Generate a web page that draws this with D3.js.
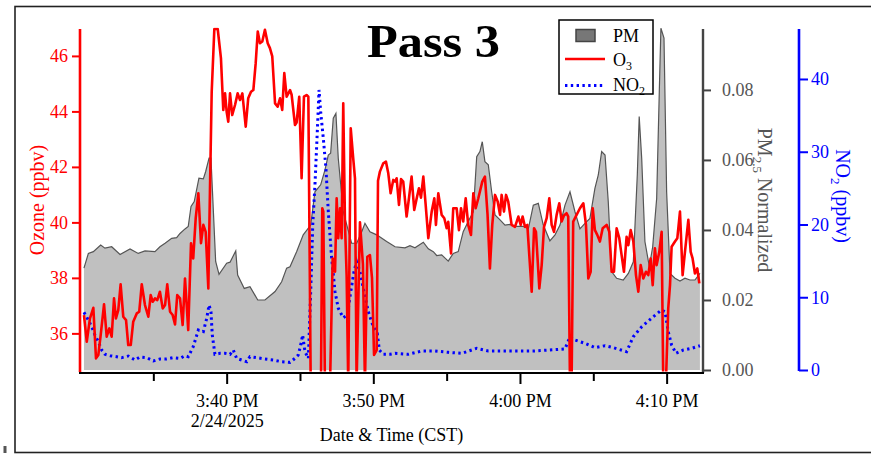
<!DOCTYPE html>
<html><head><meta charset="utf-8">
<script src="https://cdn.jsdelivr.net/npm/d3@7"></script>
<style>
html,body{margin:0;padding:0;background:#fff;}
svg{display:block;font-family:"Liberation Serif","Times New Roman",serif;}
</style></head><body>
<svg id="chart" width="871" height="454"></svg>
<script>
// ---------- DATA (time = minutes after 15:30 on 2/24/2025) ----------
const startTime = "2025-02-24T15:30:00";
const xEndMin = 42.48;
const majorTicks = ["15:40", "15:50", "16:00", "16:10"];
const minorTicks = ["15:35", "15:45", "15:55", "16:05"];
const o3Ticks = [36, 38, 40, 42, 44, 46];
const pmTicks = [0, 0.02, 0.04, 0.06, 0.08];
const no2Ticks = [0, 10, 20, 30, 40];
const o3Domain = [34.68, 46.97];
const pmDomain = [0, 0.0974];
const no2Domain = [0, 46.87];

const pmMin = [0.27,0.57,0.91,1.41,1.70,2.16,2.73,3.41,3.97,4.43,5.11,5.45,5.80,6.25,6.59,6.82,7.16,7.38,7.57,7.79,8.11,8.41,8.57,8.80,8.93,9.25,9.48,10.00,10.23,10.62,10.75,11.20,11.59,12.12,12.61,13.30,13.75,14.09,14.32,14.77,15.22,15.73,16.02,16.41,16.70,16.93,17.09,17.27,17.45,17.61,17.95,18.52,18.87,19.21,19.43,19.77,20.23,20.91,21.48,22.16,22.50,22.84,23.41,23.75,24.09,24.32,24.66,25.11,25.45,25.79,26.13,26.47,26.82,27.05,27.27,27.43,27.61,27.84,28.07,28.30,28.64,28.98,29.32,29.77,30.23,30.57,30.91,31.25,31.59,32.04,32.39,32.73,33.07,33.41,33.75,34.09,34.43,34.77,35.11,35.34,35.57,35.80,36.02,36.25,36.59,37.04,37.39,37.73,38.00,38.13,38.30,38.52,38.82,39.05,39.32,39.50,39.61,39.82,40.00,40.23,40.57,40.91,41.25,41.59,41.93,42.27];
const pmVal = [0.0291,0.0333,0.0338,0.0357,0.0348,0.0352,0.0330,0.0346,0.0333,0.0340,0.0338,0.0352,0.0362,0.0376,0.0378,0.0390,0.0403,0.0410,0.0467,0.0481,0.0548,0.0546,0.0567,0.0605,0.0605,0.0310,0.0273,0.0305,0.0308,0.0340,0.0271,0.0233,0.0238,0.0200,0.0200,0.0224,0.0252,0.0291,0.0295,0.0338,0.0386,0.0414,0.0509,0.0529,0.0571,0.0614,0.0619,0.0719,0.0733,0.0605,0.0452,0.0362,0.0362,0.0395,0.0419,0.0395,0.0386,0.0367,0.0352,0.0349,0.0355,0.0349,0.0365,0.0346,0.0338,0.0327,0.0329,0.0311,0.0333,0.0338,0.0395,0.0424,0.0452,0.0609,0.0624,0.0652,0.0595,0.0586,0.0509,0.0443,0.0429,0.0414,0.0416,0.0410,0.0410,0.0403,0.0471,0.0476,0.0414,0.0369,0.0386,0.0414,0.0471,0.0509,0.0452,0.0403,0.0419,0.0433,0.0519,0.0557,0.0624,0.0614,0.0481,0.0281,0.0262,0.0257,0.0276,0.0309,0.0557,0.0724,0.0605,0.0367,0.0295,0.0352,0.0490,0.0795,0.0976,0.0948,0.0509,0.0276,0.0262,0.0254,0.0262,0.0257,0.0257,0.0276];

const o3Min = [0.27,0.46,0.68,0.91,1.09,1.25,1.41,1.64,1.82,2.00,2.16,2.32,2.45,2.61,2.77,2.95,3.14,3.29,3.46,3.63,3.87,4.04,4.21,4.43,4.66,4.82,4.96,5.11,5.27,5.45,5.64,5.80,5.95,6.14,6.32,6.48,6.63,6.82,7.00,7.16,7.38,7.57,7.72,7.89,8.07,8.25,8.41,8.57,8.75,8.86,8.98,9.16,9.39,9.61,9.77,9.89,10.00,10.11,10.23,10.38,10.57,10.75,10.91,11.07,11.30,11.47,11.66,11.82,11.98,12.12,12.27,12.43,12.61,12.80,12.95,13.11,13.30,13.48,13.64,13.79,13.93,14.09,14.32,14.43,14.66,14.77,14.95,15.11,15.27,15.45,15.57,15.73,16.09,16.43,16.52,16.59,16.70,17.05,17.23,17.39,17.50,17.61,17.73,17.84,17.95,18.07,18.18,18.29,18.46,18.63,18.75,18.86,19.09,19.29,19.43,19.59,19.77,19.91,20.05,20.23,20.32,20.45,20.68,20.86,21.02,21.18,21.36,21.48,21.59,21.75,21.89,22.04,22.27,22.43,22.61,22.79,22.96,23.11,23.25,23.41,23.57,23.75,23.98,24.16,24.27,24.43,24.66,24.84,25.00,25.11,25.30,25.45,25.68,25.84,25.98,26.13,26.30,26.47,26.66,26.82,26.98,27.16,27.43,27.61,27.79,27.95,28.11,28.30,28.48,28.64,28.75,28.91,29.05,29.20,29.43,29.66,29.89,30.05,30.18,30.34,30.50,30.80,30.96,31.09,31.32,31.48,31.64,31.82,32.00,32.16,32.32,32.50,32.68,32.84,33.00,33.18,33.29,33.41,33.52,33.63,33.86,34.09,34.32,34.50,34.66,34.82,34.96,35.11,35.27,35.45,35.64,35.91,36.09,36.25,36.41,36.59,36.77,36.93,37.09,37.27,37.39,37.55,37.73,37.91,38.07,38.23,38.41,38.59,38.75,38.91,39.05,39.20,39.32,39.50,39.66,39.77,39.95,40.11,40.23,40.34,40.57,40.73,40.91,41.09,41.25,41.48,41.64,41.77,41.93,42.09,42.23];
const o3Val = [36.66,35.70,36.54,36.92,35.10,35.22,35.94,37.05,35.88,36.18,35.88,37.26,36.54,36.84,37.77,36.60,36.48,35.58,35.58,36.42,36.72,36.78,37.77,37.02,36.60,37.38,37.14,37.26,37.20,37.50,36.90,37.02,37.77,36.78,36.66,36.32,37.38,37.26,36.30,37.98,36.12,39.25,38.70,40.15,41.05,39.25,39.91,39.66,37.62,41.11,44.71,46.97,46.97,45.92,44.05,44.65,43.99,43.63,44.65,43.87,44.23,44.65,44.41,44.65,43.45,44.47,44.71,44.77,45.74,46.88,46.46,46.52,46.94,46.46,46.28,45.98,44.29,44.17,44.47,44.05,45.38,44.53,44.77,44.60,43.51,43.60,44.53,41.59,44.53,44.59,44.53,34.2,34.2,34.2,40.51,40.40,34.2,34.2,38.70,38.22,40.87,39.43,40.51,39.43,44.29,39.91,38.10,34.2,43.39,42.31,41.59,34.2,40.0,38.5,34.2,38.76,38.82,38.0,35.22,35.4,41.5,41.83,42.13,42.19,41.77,41.05,41.53,41.47,41.59,40.63,41.56,41.47,40.21,40.87,41.65,40.45,40.87,41.23,40.89,41.65,40.63,39.43,40.39,40.87,39.91,41.05,40.27,40.15,39.79,40.02,38.88,40.51,40.51,39.72,40.51,40.03,40.87,39.91,39.55,41.05,40.51,40.87,41.47,41.65,40.27,38.34,39.91,40.99,40.75,40.27,40.99,40.39,40.99,40.75,39.91,39.84,40.21,39.91,40.21,39.84,39.91,37.50,39.79,39.66,37.62,38.46,39.84,40.15,40.87,39.91,39.66,40.27,40.69,40.03,40.25,40.33,40.21,34.2,34.2,40.03,40.27,40.51,40.69,39.91,37.98,38.22,40.51,39.72,39.55,39.31,39.79,39.91,39.66,38.22,38.22,39.79,39.43,38.82,38.22,39.48,39.18,39.72,39.31,38.10,37.50,38.46,37.98,38.22,38.10,38.70,37.74,39.07,38.46,38.94,39.66,34.2,34.2,36.90,37.74,39.12,39.31,39.43,40.39,38.10,38.94,40.09,38.94,38.70,38.16,38.34,37.80];

const no2Min = [0.27,0.50,0.80,1.02,1.25,1.48,1.70,2.05,2.50,2.84,3.29,3.75,4.09,4.55,5.00,5.45,5.91,6.36,6.82,7.16,7.38,7.72,8.07,8.41,8.64,8.80,8.93,9.02,9.20,9.55,9.89,10.23,10.45,10.68,11.02,11.37,11.59,12.05,12.61,13.18,13.75,14.32,14.66,14.88,15.05,15.18,15.34,15.57,15.73,15.87,16.02,16.18,16.30,16.41,16.59,16.77,16.93,17.16,17.39,17.61,17.95,18.23,18.46,18.68,18.86,19.09,19.36,19.66,20.00,20.27,20.41,20.68,21.14,21.48,22.39,23.30,24.20,25.11,26.02,27.05,27.84,28.64,30.91,33.07,33.41,33.75,34.43,35.11,35.80,36.36,37.27,37.73,38.30,39.09,39.66,39.89,40.11,40.34,40.64,41.14,41.70,42.27];
const no2Val = [7.93,7.10,5.96,4.81,3.89,2.75,2.16,1.97,1.83,1.70,1.92,1.37,1.79,1.70,1.24,1.51,1.51,1.70,1.60,1.97,1.83,3.20,5.50,5.27,7.10,8.93,8.00,4.81,2.16,2.29,2.29,2.16,2.75,1.60,1.37,1.14,1.83,1.70,1.51,1.37,1.14,1.05,1.60,2.06,3.44,4.81,2.52,1.60,10.76,19.93,25.43,32.76,38.49,35.50,31.85,27.72,21.76,15.35,10.76,8.48,7.19,7.56,10.76,13.51,14.89,13.51,10.76,8.01,5.95,5.04,2.75,2.16,2.16,2.29,2.16,2.61,2.61,2.43,2.29,2.98,2.61,2.61,2.61,2.89,4.58,4.12,3.67,3.07,3.34,3.07,2.52,4.58,5.95,7.33,8.25,8.01,5.27,3.44,2.29,2.75,2.98,3.34];

// ---------- DRAWING ----------
const svg = d3.select("#chart");
const L = 80, R = 703, T = 29, B = 370;
const start = new Date(startTime);
const toDate = m => new Date(start.getTime() + m * 60000);
const hm = s => { const [h, m] = s.split(":").map(Number); return toDate((h - 15) * 60 + m - 30); };
const zip = (ts, vs) => ts.slice(0, Math.min(ts.length, vs.length)).map((t, i) => ({ t: toDate(t), v: vs[i] }));

const x = d3.scaleTime().domain([toDate(0), toDate(xEndMin)]).range([L, R]);
const yO3 = d3.scaleLinear().domain(o3Domain).range([B, T]);
const yPM = d3.scaleLinear().domain(pmDomain).range([B, T]);
const yNO2 = d3.scaleLinear().domain(no2Domain).range([B, T]);

// frame
svg.append("rect").attr("x", 15).attr("y", 6.5).attr("width", 870).attr("height", 446)
  .attr("fill", "none").attr("stroke", "#222").attr("stroke-width", 1.6);
svg.append("rect").attr("x", 3.5).attr("y", 446).attr("width", 3).attr("height", 7).attr("fill", "#555");

svg.append("clipPath").attr("id", "plotclip").append("rect")
  .attr("x", L).attr("y", T - 1.5).attr("width", R - L).attr("height", B - T + 3);
const plot = svg.append("g").attr("clip-path", "url(#plotclip)");

const pmData = zip(pmMin, pmVal);
plot.append("path").datum(pmData)
  .attr("d", d3.area().x(d => x(d.t)).y0(yPM(0)).y1(d => yPM(d.v)))
  .attr("fill", "#c0c0c0");
plot.append("path").datum(pmData)
  .attr("d", d3.line().x(d => x(d.t)).y(d => yPM(d.v)))
  .attr("fill", "none").attr("stroke", "#555").attr("stroke-width", 1.2);

plot.append("path").datum(zip(no2Min, no2Val))
  .attr("d", d3.line().x(d => x(d.t)).y(d => yNO2(d.v)))
  .attr("fill", "none").attr("stroke", "#0000ff").attr("stroke-width", 3)
  .attr("stroke-dasharray", "2.4,3.4");

plot.append("path").datum(zip(o3Min, o3Val))
  .attr("d", d3.line().x(d => x(d.t)).y(d => yO3(d.v)))
  .attr("fill", "none").attr("stroke", "#ff0000").attr("stroke-width", 2.6)
  .attr("stroke-linejoin", "round");

// left ozone axis
const gL = svg.append("g").attr("transform", `translate(${L},0)`)
  .call(d3.axisLeft(yO3).tickValues(o3Ticks).tickSize(8).tickPadding(4).tickFormat(d3.format("d")));
gL.select(".domain").remove();
gL.selectAll("line").attr("stroke", "#ff0000").attr("stroke-width", 2);
gL.selectAll("text").attr("fill", "#ff0000").attr("font-size", 18).attr("font-family", "Liberation Serif");
svg.append("line").attr("x1", L).attr("x2", L).attr("y1", T).attr("y2", B + 2)
  .attr("stroke", "#ff0000").attr("stroke-width", 2.6);

// PM axis
const gP = svg.append("g").attr("transform", `translate(${R},0)`)
  .call(d3.axisRight(yPM).tickValues(pmTicks).tickSize(8).tickPadding(11).tickFormat(d3.format(".2f")));
gP.select(".domain").remove();
gP.selectAll("line").attr("stroke", "#444").attr("stroke-width", 2);
gP.selectAll("text").attr("fill", "#555").attr("font-size", 18).attr("font-family", "Liberation Serif");
svg.append("line").attr("x1", R).attr("x2", R).attr("y1", T).attr("y2", B + 3)
  .attr("stroke", "#444").attr("stroke-width", 2.4);

// NO2 axis
const NX = 799;
const gN = svg.append("g").attr("transform", `translate(${NX},0)`)
  .call(d3.axisRight(yNO2).tickValues(no2Ticks).tickSize(9).tickPadding(3).tickFormat(d3.format("d")));
gN.select(".domain").remove();
gN.selectAll("line").attr("stroke", "#0000ff").attr("stroke-width", 2);
gN.selectAll("text").attr("fill", "#0000ff").attr("font-size", 18).attr("font-family", "Liberation Serif");
svg.append("line").attr("x1", NX).attr("x2", NX).attr("y1", T).attr("y2", B + 1)
  .attr("stroke", "#0000ff").attr("stroke-width", 2.6);

// x axis
const XY = 373;
const fmt = d3.timeFormat("%-I:%M %p");
const gX = svg.append("g").attr("transform", `translate(0,${XY})`)
  .call(d3.axisBottom(x).tickValues(majorTicks.map(hm)).tickSize(11).tickPadding(10).tickFormat(fmt));
gX.select(".domain").remove();
gX.selectAll("line").attr("stroke", "#000").attr("stroke-width", 2);
gX.selectAll("text").attr("fill", "#000").attr("font-size", 18).attr("font-family", "Liberation Serif");
gX.selectAll(".tick").filter((d, i) => i === 0).select("text")
  .append("tspan").attr("x", 0).attr("dy", "1.1em").text(d3.timeFormat("%-m/%-d/%Y")(start));
const gXm = svg.append("g").attr("transform", `translate(0,${XY})`)
  .call(d3.axisBottom(x).tickValues(minorTicks.map(hm)).tickSize(8).tickFormat(""));
gXm.select(".domain").remove();
gXm.selectAll("line").attr("stroke", "#000").attr("stroke-width", 2);
svg.append("line").attr("x1", L - 1).attr("x2", R + 1).attr("y1", XY).attr("y2", XY)
  .attr("stroke", "#000").attr("stroke-width", 2);

// axis titles
svg.append("text").attr("x", (L + R) / 2).attr("y", 441).attr("text-anchor", "middle")
  .attr("font-size", 18).text("Date & Time (CST)");
svg.append("text").attr("transform", "translate(37,200) rotate(-90)").attr("text-anchor", "middle")
  .attr("dy", "0.35em").attr("font-size", 20).attr("fill", "#ff0000").text("Ozone (ppbv)");
const pt = svg.append("text").attr("transform", "translate(765,200) rotate(90)").attr("text-anchor", "middle")
  .attr("dy", "0.35em").attr("font-size", 20).attr("fill", "#555");
pt.append("tspan").text("PM");
pt.append("tspan").attr("font-size", 13).attr("dy", 5).text("2.5");
pt.append("tspan").attr("dy", -5).text(" Normalized");
const nt = svg.append("text").attr("transform", "translate(843,196) rotate(90)").attr("text-anchor", "middle")
  .attr("dy", "0.35em").attr("font-size", 20).attr("fill", "#0000ff");
nt.append("tspan").text("NO");
nt.append("tspan").attr("font-size", 13).attr("dy", 5).text("2");
nt.append("tspan").attr("dy", -5).text(" (ppbv)");

// title
svg.append("text").attr("x", 433.5).attr("y", 57).attr("text-anchor", "middle")
  .attr("font-size", 47).attr("font-weight", "bold")
  .attr("textLength", 133).attr("lengthAdjust", "spacingAndGlyphs").text("Pass 3");

// legend
const lg = svg.append("g");
lg.append("rect").attr("x", 559).attr("y", 20).attr("width", 94).attr("height", 74)
  .attr("fill", "#fff").attr("stroke", "#000").attr("stroke-width", 1.5);
lg.append("rect").attr("x", 576).attr("y", 29.5).attr("width", 19).attr("height", 12)
  .attr("fill", "#777").attr("stroke", "#444").attr("stroke-width", 1.5);
lg.append("text").attr("x", 613).attr("y", 41.5).attr("font-size", 18).text("PM");
lg.append("line").attr("x1", 565).attr("x2", 605).attr("y1", 59).attr("y2", 59)
  .attr("stroke", "#ff0000").attr("stroke-width", 2.6);
const lo = lg.append("text").attr("x", 613).attr("y", 65.5).attr("font-size", 18);
lo.append("tspan").text("O");
lo.append("tspan").attr("font-size", 12).attr("dy", 4).text("3");
lg.append("line").attr("x1", 565).attr("x2", 604).attr("y1", 85.5).attr("y2", 85.5)
  .attr("stroke", "#0000ff").attr("stroke-width", 3).attr("stroke-dasharray", "2.4,3.4");
const ln = lg.append("text").attr("x", 613).attr("y", 90.5).attr("font-size", 18);
ln.append("tspan").text("NO");
ln.append("tspan").attr("font-size", 12).attr("dy", 4).text("2");
</script>
</body></html>
